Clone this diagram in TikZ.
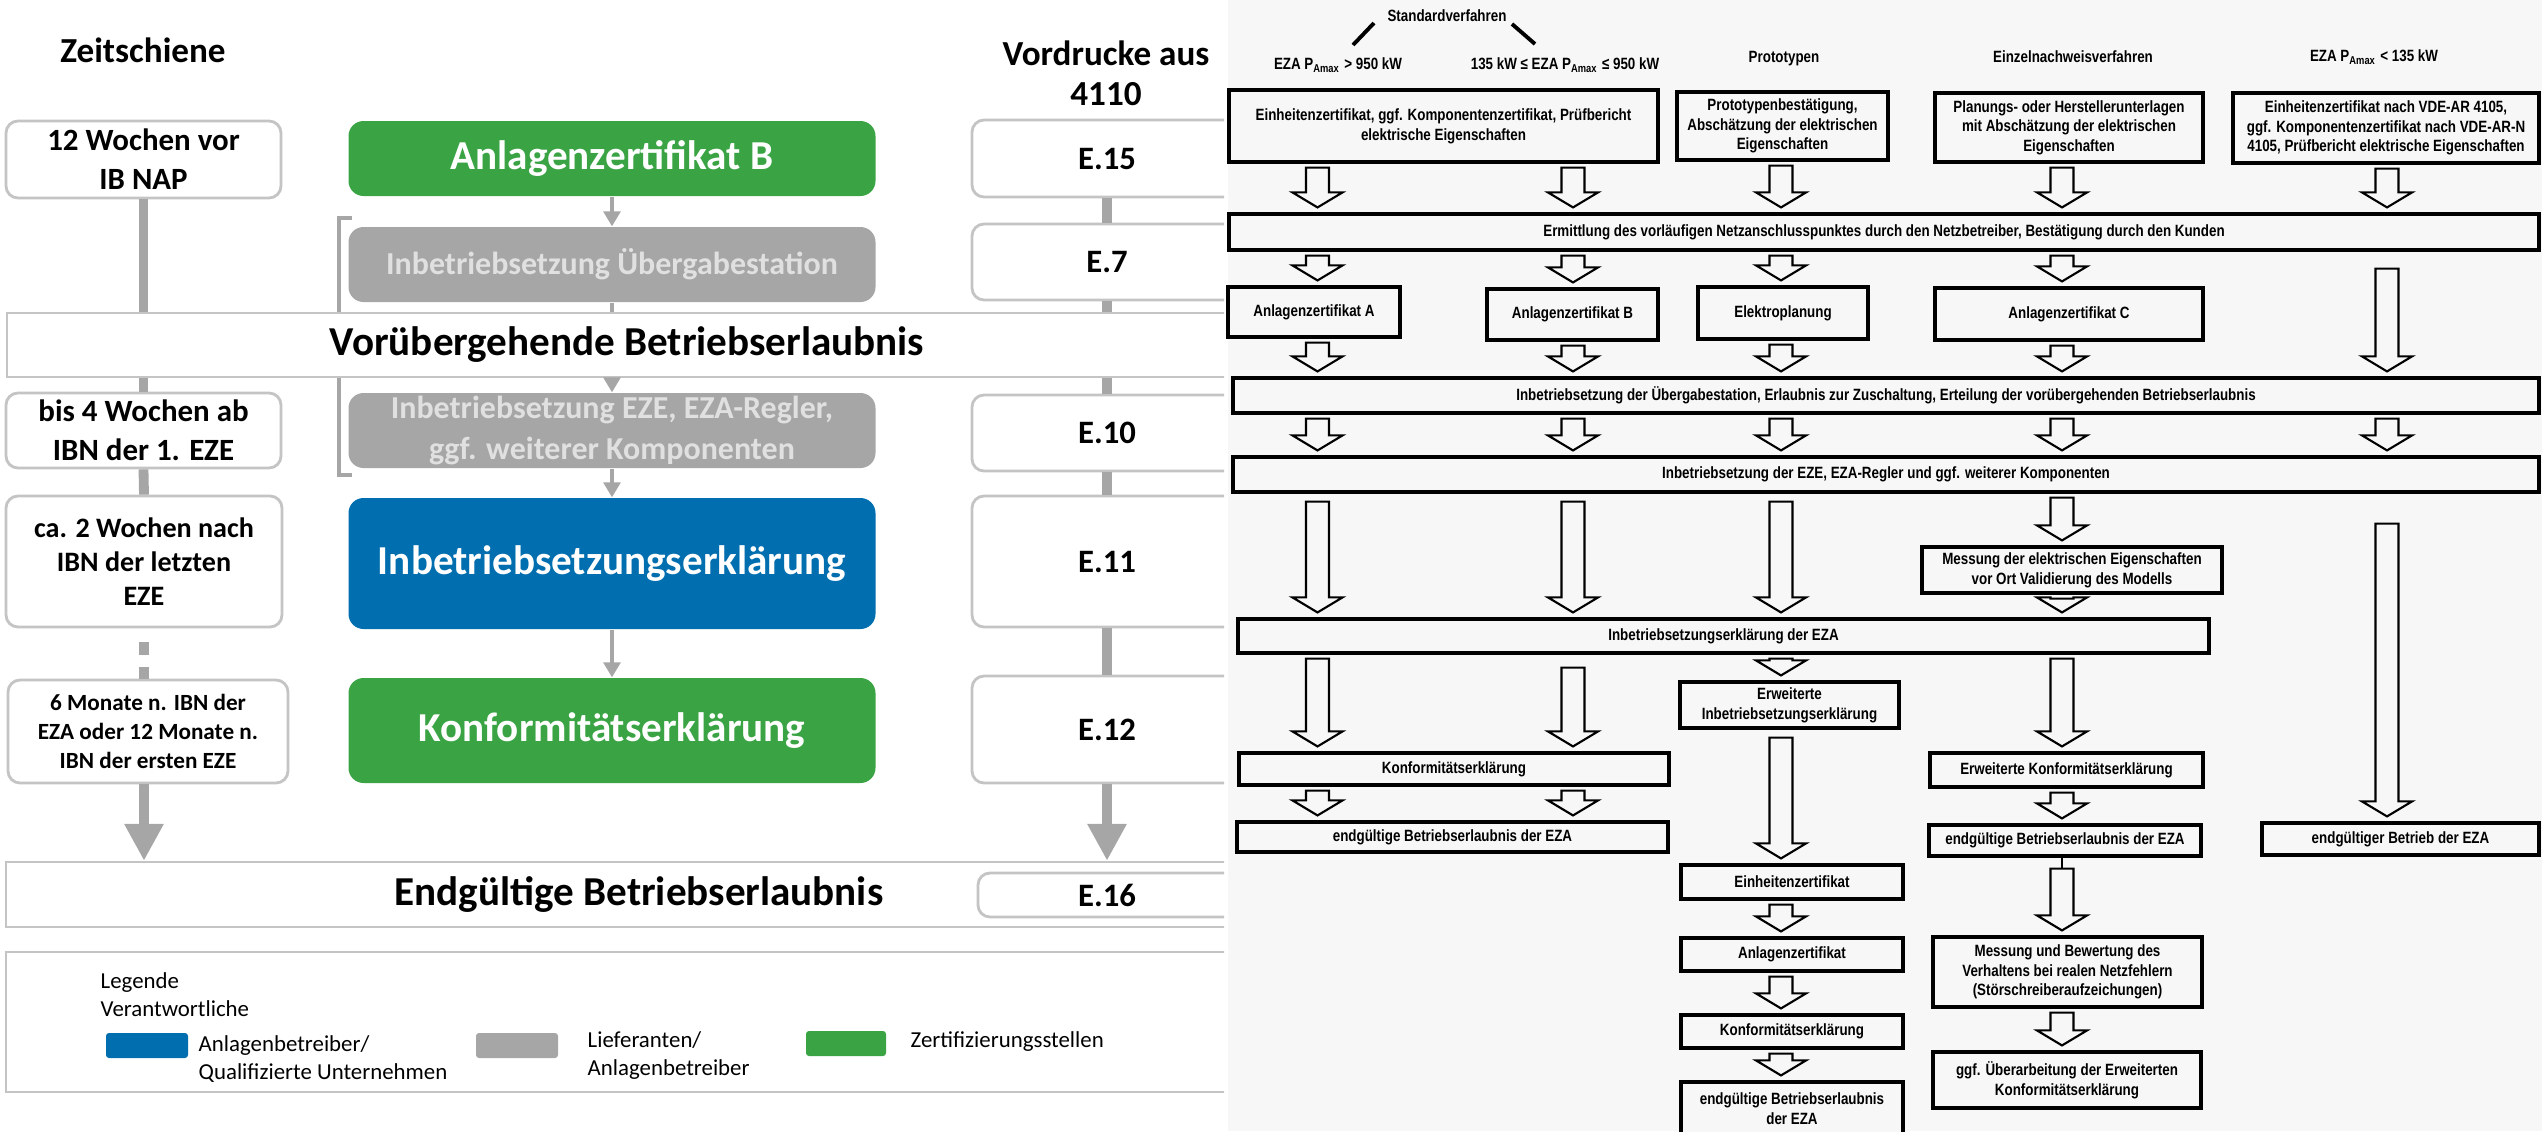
\documentclass[tikz,border=0pt]{standalone}
\usepackage{fontspec}
\setmainfont{Carlito}
\newfontfamily\schmal[FakeStretch=0.82]{Liberation Sans}
\usetikzlibrary{arrows.meta,calc}

\definecolor{gruen}{HTML}{3AA445}
\definecolor{blau}{HTML}{006EAF}
\definecolor{grau}{HTML}{A6A6A6}
\definecolor{rand}{HTML}{C4C4C4}
\definecolor{hinter}{HTML}{F7F7F7}
\newcommand{\pamax}{P\textsubscript{Amax}}

\tikzset{
  zeitbox/.style={draw=rand, line width=0.8pt, rounded corners=0.12cm, fill=white, align=center, inner sep=0pt, font=\bfseries\fontsize{8.8}{11.1}\selectfont},
  formbox/.style={zeitbox, font=\bfseries\fontsize{9.3}{11}\selectfont},
  stufe/.style={rounded corners=0.15cm, inner sep=0pt, align=center, text=white, minimum width=5.27cm, font=\bfseries\fontsize{11.7}{14}\selectfont},
  grauestufe/.style={stufe, fill=grau, text=white!88!black, font=\bfseries\fontsize{9.1}{11.4}\selectfont},
  band/.style={draw=rand, line width=0.7pt, fill=white, inner sep=0pt, font=\bfseries\fontsize{11.7}{14}\selectfont},
  zeitlinie/.style={draw=grau, line width=2.8pt},
  zeitpfeil/.style={zeitlinie, -{Triangle[width=0.37cm,length=0.37cm]}},
  flusspfeil/.style={draw=grau, line width=0.9pt, -{Triangle[width=0.17cm,length=0.15cm]}},
  legtext/.style={anchor=west, align=left, inner sep=0pt, font=\fontsize{6.5}{8}\selectfont},
  kasten/.style={draw=black, line width=0.9pt, fill=hinter, inner sep=0pt, align=center, font=\schmal\bfseries\fontsize{4.64}{5.6}\selectfont},
  kopf/.style={inner sep=0pt, font=\schmal\bfseries\fontsize{4.64}{5.6}\selectfont},
  blockpfeil/.style={draw=black, line width=0.6pt, to path={
    let \p1=(\tikztostart), \p2=(\tikztotarget) in
    (\x1-0.115cm,\y1-0.04cm) -- (\x1-0.115cm,\y2+0.2cm) -- (\x1-0.25cm,\y2+0.2cm) -- (\x1,\y2+0.05cm)
    -- (\x1+0.25cm,\y2+0.2cm) -- (\x1+0.115cm,\y2+0.2cm) -- (\x1+0.115cm,\y1-0.04cm) -- cycle}}
}

\begin{document}
\begin{tikzpicture}[y=-1cm]
\useasboundingbox (0,0) rectangle (25.42,11.31);

% linke Seite: Zeitschiene
\begin{scope}
\clip (0,0) rectangle (12.24,11.31);
\draw[draw=grau, line width=1.2pt] (3.52,2.18) -- (3.39,2.18) -- (3.39,4.75) -- (3.52,4.75);

\node[font=\bfseries\fontsize{10}{12}\selectfont] (zeit) at (1.43,0.50) {Zeitschiene};
\node[font=\bfseries\fontsize{10}{11.4}\selectfont, align=center] (vordr) at (11.06,0.73) {Vordrucke aus\\4110};

\node[zeitbox, minimum width=2.75cm, minimum height=0.77cm] (t1) at (1.435,1.595) {12 Wochen vor\\IB NAP};
\node[zeitbox, minimum width=2.75cm, minimum height=0.75cm] (t2) at (1.435,4.305) {bis 4 Wochen ab\\IBN der 1. EZE};
\node[zeitbox, minimum width=2.76cm, minimum height=1.31cm, font=\bfseries\fontsize{8}{9.7}\selectfont] (t3) at (1.44,5.615) {ca. 2 Wochen nach\\IBN der letzten\\EZE};
\node[zeitbox, minimum width=2.80cm, minimum height=1.03cm, font=\bfseries\fontsize{6.6}{8.3}\selectfont] (t4) at (1.48,7.315) {6 Monate n. IBN der\\EZA oder 12 Monate n.\\IBN der ersten EZE};

\node[stufe, fill=gruen, minimum height=0.75cm] (az) at (6.12,1.585) {Anlagenzertifikat B};
\node[grauestufe, minimum height=0.75cm] (ib1) at (6.12,2.645) {Inbetriebsetzung Übergabestation};
\node[grauestufe, minimum height=0.75cm] (ib2) at (6.12,4.305) {Inbetriebsetzung EZE, EZA-Regler,\\ggf. weiterer Komponenten};
\node[stufe, fill=blau, minimum height=1.31cm] (ibe) at (6.12,5.635) {Inbetriebsetzungserklärung};
\node[stufe, fill=gruen, minimum height=1.05cm] (kon) at (6.12,7.305) {Konformitätserklärung};

\node[formbox, minimum width=2.70cm, minimum height=0.77cm] (e15) at (11.07,1.585) {E.15};
\node[formbox, minimum width=2.70cm, minimum height=0.76cm] (e7) at (11.07,2.62) {E.7};
\node[formbox, minimum width=2.70cm, minimum height=0.76cm] (e10) at (11.07,4.33) {E.10};
\node[formbox, minimum width=2.70cm, minimum height=1.31cm] (e11) at (11.07,5.615) {E.11};
\node[formbox, minimum width=2.70cm, minimum height=1.07cm] (e12) at (11.07,7.295) {E.12};

\node[band, minimum width=12.40cm, minimum height=0.64cm] (vbe) at (6.27,3.45) {Vorübergehende Betriebserlaubnis};
\node[band, minimum width=12.66cm, minimum height=0.65cm] (ebe) at (6.39,8.945) {Endgültige Betriebserlaubnis};
\node[formbox, minimum width=2.58cm, minimum height=0.44cm] (e16) at (11.07,8.95) {E.16};

% Legende
\node[draw=rand, line width=0.7pt, minimum width=12.44cm, minimum height=1.40cm] (leg) at (6.28,10.22) {};
\node[legtext] (legt) at (1.00,9.95) {Legende\\Verantwortliche};
\node[fill=blau, rounded corners=0.03cm, minimum width=0.82cm, minimum height=0.25cm, inner sep=0pt] (lblau) at (1.47,10.455) {};
\node[fill=grau, rounded corners=0.03cm, minimum width=0.82cm, minimum height=0.25cm, inner sep=0pt] (lgrau) at (5.17,10.455) {};
\node[fill=gruen, rounded corners=0.03cm, minimum width=0.80cm, minimum height=0.25cm, inner sep=0pt] (lgruen) at (8.46,10.435) {};
\node[legtext] (tblau) at (1.98,10.59) {Anlagenbetreiber/\\Qualifizierte Unternehmen};
\node[legtext] (tgrau) at (5.87,10.555) {Lieferanten/\\Anlagenbetreiber};
\node[legtext] (tgruen) at (9.10,10.42) {Zertifizierungsstellen};

\draw[zeitlinie] (t1.south) -- (t1.south |- vbe.north);
\draw[zeitlinie] (t2.north |- vbe.south) -- (t2.north);
\draw[zeitlinie] (t2.south) -- (t3.north);
\draw[zeitlinie, dash pattern=on 0pt off 0.14cm on 0.13cm off 0.12cm on 0.13cm off 1cm] (t3.south) -- (t3.south |- t4.north);
\draw[zeitpfeil] (t3.south |- t4.south) -- (t3.south |- ebe.north);

\draw[zeitlinie] (e15.south) -- (e7.north);
\draw[zeitlinie] (e7.south) -- (e7.south |- vbe.north);
\draw[zeitlinie] (e10.north |- vbe.south) -- (e10.north);
\draw[zeitlinie] (e10.south) -- (e11.north);
\draw[zeitlinie] (e11.south) -- (e12.north);
\draw[zeitpfeil] (e12.south) -- (e12.south |- ebe.north);

\draw[flusspfeil] (az.south) -- (ib1.north);
\draw[draw=grau, line width=0.9pt] (ib1.south) -- (ib1.south |- vbe.north);
\draw[flusspfeil] (ib2.north |- vbe.south) -- (ib2.north);
\draw[flusspfeil] (ib2.south) -- (ibe.north);
\draw[flusspfeil] (ibe.south) -- (kon.north);
\end{scope}

% rechte Seite: Ablauf nach Verfahren
\fill[hinter] (12.28,0) rectangle (25.42,11.31);
\coordinate (k1) at (13.175,0);
\coordinate (k2) at (15.73,0);
\coordinate (k3) at (17.81,0);
\coordinate (k4) at (20.62,0);
\coordinate (k5) at (23.87,0);

\node[kopf] (std) at (14.47,0.16) {Standardverfahren};
\node[kopf] (h1) at (13.38,0.65) {EZA \pamax{} > 950 kW};
\node[kopf] (h2) at (15.65,0.65) {135 kW ≤ EZA \pamax{} ≤ 950 kW};
\node[kopf] (h3) at (17.84,0.59) {Prototypen};
\node[kopf] (h4) at (20.73,0.57) {Einzelnachweisverfahren};
\node[kopf] (h5) at (23.74,0.57) {EZA \pamax{} < 135 kW};
\coordinate (s1a) at (13.53,0.45);
\coordinate (s1b) at (13.74,0.23);
\coordinate (s2a) at (15.12,0.24);
\coordinate (s2b) at (15.35,0.44);
\draw[line width=1.1pt] (s1a) -- (s1b);
\draw[line width=1.1pt] (s2a) -- (s2b);

\node[kasten, minimum width=4.29cm, minimum height=0.72cm] (b1) at (14.435,1.26) {Einheitenzertifikat, ggf. Komponentenzertifikat, Prüfbericht\\elektrische Eigenschaften};
\node[kasten, minimum width=2.11cm, minimum height=0.68cm] (b2) at (17.825,1.26) {Prototypenbestätigung,\\Abschätzung der elektrischen\\Eigenschaften};
\node[kasten, minimum width=2.68cm, minimum height=0.69cm] (b3) at (20.69,1.275) {Planungs- oder Herstellerunterlagen\\mit Abschätzung der elektrischen\\Eigenschaften};
\node[kasten, minimum width=3.06cm, minimum height=0.70cm] (b4) at (23.86,1.28) {Einheitenzertifikat nach VDE-AR 4105,\\ggf. Komponentenzertifikat nach VDE-AR-N\\4105, Prüfbericht elektrische Eigenschaften};

\node[kasten, minimum width=13.10cm, minimum height=0.36cm] (band1) at (18.84,2.32) {Ermittlung des vorläufigen Netzanschlusspunktes durch den Netzbetreiber, Bestätigung durch den Kunden};

\node[kasten, minimum width=1.72cm, minimum height=0.50cm] (c1) at (13.14,3.12) {Anlagenzertifikat A};
\node[kasten, minimum width=1.71cm, minimum height=0.51cm] (c2) at (15.725,3.145) {Anlagenzertifikat B};
\node[kasten, minimum width=1.70cm, minimum height=0.52cm] (c3) at (17.83,3.13) {Elektroplanung};
\node[kasten, minimum width=2.68cm, minimum height=0.52cm] (c4) at (20.69,3.14) {Anlagenzertifikat C};

\node[kasten, minimum width=13.06cm, minimum height=0.35cm] (band2) at (18.86,3.955) {Inbetriebsetzung der Übergabestation, Erlaubnis zur Zuschaltung, Erteilung der vorübergehenden Betriebserlaubnis};
\node[kasten, minimum width=13.06cm, minimum height=0.35cm] (band3) at (18.86,4.745) {Inbetriebsetzung der EZE, EZA-Regler und ggf. weiterer Komponenten};

\node[kasten, minimum width=3.00cm, minimum height=0.46cm] (m1) at (20.72,5.70) {Messung der elektrischen Eigenschaften\\vor Ort Validierung des Modells};
\node[kasten, minimum width=9.71cm, minimum height=0.34cm] (band4) at (17.235,6.36) {Inbetriebsetzungserklärung der EZA};

\node[kasten, minimum width=2.19cm, minimum height=0.46cm] (d3) at (17.895,7.05) {Erweiterte\\Inbetriebsetzungserklärung};
\node[kasten, minimum width=4.30cm, minimum height=0.32cm] (d1) at (14.54,7.69) {Konformitätserklärung};
\node[kasten, minimum width=2.73cm, minimum height=0.34cm] (d4) at (20.665,7.70) {Erweiterte Konformitätserklärung};

\node[kasten, minimum width=4.31cm, minimum height=0.30cm] (f1) at (14.525,8.37) {endgültige Betriebserlaubnis der EZA};
\node[kasten, minimum width=2.72cm, minimum height=0.31cm] (f4) at (20.65,8.405) {endgültige Betriebserlaubnis der EZA};
\node[kasten, minimum width=2.77cm, minimum height=0.32cm] (f5) at (24.005,8.39) {endgültiger Betrieb der EZA};

\node[kasten, minimum width=2.22cm, minimum height=0.34cm] (p1) at (17.92,8.82) {Einheitenzertifikat};
\node[kasten, minimum width=2.22cm, minimum height=0.33cm] (p2) at (17.92,9.545) {Anlagenzertifikat};
\node[kasten, minimum width=2.22cm, minimum height=0.33cm] (p3) at (17.92,10.315) {Konformitätserklärung};
\node[kasten, minimum width=2.22cm, minimum height=0.53cm] (p4) at (17.92,11.085) {endgültige Betriebserlaubnis\\der EZA};

\node[kasten, minimum width=2.69cm, minimum height=0.70cm] (n1) at (20.675,9.72) {Messung und Bewertung des\\Verhaltens bei realen Netzfehlern\\(Störschreiberaufzeichungen)};
\node[kasten, minimum width=2.68cm, minimum height=0.56cm] (n2) at (20.67,10.80) {ggf. Überarbeitung der Erweiterten\\Konformitätserklärung};

% Blockpfeile
\draw[blockpfeil] (b1.south -| k1) to (band1.north -| k1);
\draw[blockpfeil] (b1.south -| k2) to (band1.north -| k2);
\draw[blockpfeil] (b2.south -| k3) to (band1.north -| k3);
\draw[blockpfeil] (b3.south -| k4) to (band1.north -| k4);
\draw[blockpfeil] (b4.south -| k5) to (band1.north -| k5);

\draw[blockpfeil] (band1.south -| k1) to (c1.north -| k1);
\draw[blockpfeil] (band1.south -| k2) to (c2.north -| k2);
\draw[blockpfeil] (band1.south -| k3) to (c3.north -| k3);
\draw[blockpfeil] (band1.south -| k4) to (c4.north -| k4);
\draw[blockpfeil] ([yshift=-0.13cm]band1.south -| k5) to (band2.north -| k5);

\draw[blockpfeil] (c1.south -| k1) to (band2.north -| k1);
\draw[blockpfeil] (c2.south -| k2) to (band2.north -| k2);
\draw[blockpfeil] (c3.south -| k3) to (band2.north -| k3);
\draw[blockpfeil] (c4.south -| k4) to (band2.north -| k4);

\draw[blockpfeil] (band2.south -| k1) to (band3.north -| k1);
\draw[blockpfeil] (band2.south -| k2) to (band3.north -| k2);
\draw[blockpfeil] (band2.south -| k3) to (band3.north -| k3);
\draw[blockpfeil] (band2.south -| k4) to (band3.north -| k4);
\draw[blockpfeil] (band2.south -| k5) to (band3.north -| k5);

\draw[blockpfeil] ([yshift=-0.04cm]band3.south -| k1) to (band4.north -| k1);
\draw[blockpfeil] ([yshift=-0.04cm]band3.south -| k2) to (band4.north -| k2);
\draw[blockpfeil] ([yshift=-0.04cm]band3.south -| k3) to (band4.north -| k3);
\draw[blockpfeil] (band3.south -| k4) to (m1.north -| k4);
\draw[blockpfeil] (m1.south -| k4) to (band4.north -| k4);
\draw[blockpfeil] ([yshift=-0.26cm]band3.south -| k5) to (f5.north -| k5);

\draw[blockpfeil] (band4.south -| k1) to (d1.north -| k1);
\draw[blockpfeil] ([yshift=-0.09cm]band4.south -| k2) to (d1.north -| k2);
\draw[blockpfeil] (band4.south -| k3) to (d3.north -| k3);
\draw[blockpfeil] (band4.south -| k4) to (d4.north -| k4);

\draw[blockpfeil] (d1.south -| k1) to (f1.north -| k1);
\draw[blockpfeil] (d1.south -| k2) to (f1.north -| k2);
\draw[blockpfeil] (d4.south -| k4) to (f4.north -| k4);
\draw[blockpfeil] ([yshift=-0.04cm]d3.south -| k3) to (p1.north -| k3);
\draw[blockpfeil] (p1.south -| k3) to (p2.north -| k3);
\draw[blockpfeil] (p2.south -| k3) to (p3.north -| k3);
\draw[blockpfeil] (p3.south -| k3) to (p4.north -| k3);
\draw[line width=0.4pt] (f4.south -| k4) -- ([yshift=-0.11cm]f4.south -| k4);
\draw[blockpfeil] ([yshift=-0.07cm]f4.south -| k4) to (n1.north -| k4);
\draw[blockpfeil] (n1.south -| k4) to (n2.north -| k4);
\end{tikzpicture}
\end{document}
